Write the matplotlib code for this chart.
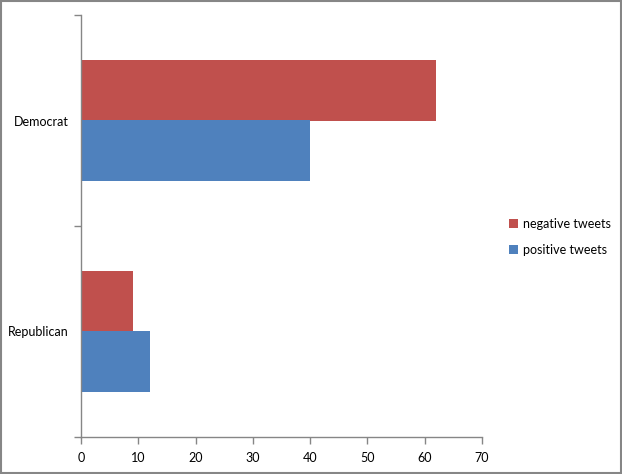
import matplotlib
matplotlib.use("Agg")
import matplotlib.pyplot as plt
from matplotlib.patches import Rectangle

# ---------------- data ----------------
parties = ["Republican", "Democrat"]
negative_tweets = [9, 62]
positive_tweets = [12, 40]
x_ticks = [0, 10, 20, 30, 40, 50, 60, 70]

RED = "#C0504D"
BLUE = "#4F81BD"
GREY = "#868686"

plt.rcParams["font.family"] = ["Lato", "DejaVu Sans"]
plt.rcParams["font.size"] = 9

fig = plt.figure(figsize=(6.22, 4.74), dpi=100)
ax = fig.add_axes([81 / 622, 1 - 437 / 474, (482 - 81) / 622, (437 - 15) / 474])

# figure border
fig.patches.append(Rectangle((0.0015, 0.002), 0.997, 0.996, transform=fig.transFigure,
                             fill=False, edgecolor=GREY, linewidth=1.5))

# Excel-style gap width 150% -> each bar = 1/3.5 of a category
h = 1 / 3.5
ypos = list(range(len(parties)))
ax.barh([y + h / 2 for y in ypos], negative_tweets, height=h, color=RED, label="negative tweets")
ax.barh([y - h / 2 for y in ypos], positive_tweets, height=h, color=BLUE, label="positive tweets")

ax.set_xlim(0, 70)
ax.set_ylim(-0.5, len(parties) - 0.5)
ax.set_xticks(x_ticks)

# category divider ticks (major), labels on minor ticks
ax.set_yticks([y - 0.5 for y in range(len(parties) + 1)])
ax.set_yticklabels([])
ax.set_yticks(ypos, minor=True)
ax.set_yticklabels(parties, minor=True)
ax.tick_params(axis="y", which="minor", length=0, pad=9)
ax.tick_params(axis="y", which="major", length=5, width=1, color=GREY)
ax.tick_params(axis="x", length=5, width=1, color=GREY, pad=6)

for s in ["top", "right"]:
    ax.spines[s].set_visible(False)
for s in ["left", "bottom"]:
    ax.spines[s].set_color(GREY)
    ax.spines[s].set_linewidth(1)

fig.legend(loc="center left", bbox_to_anchor=(498 / 622, 1 - 237 / 474), frameon=False,
           handlelength=0.7, handleheight=0.7, handletextpad=0.4, labelspacing=1.1,
           fontsize=9)

fig.savefig("out.png", dpi=100)
